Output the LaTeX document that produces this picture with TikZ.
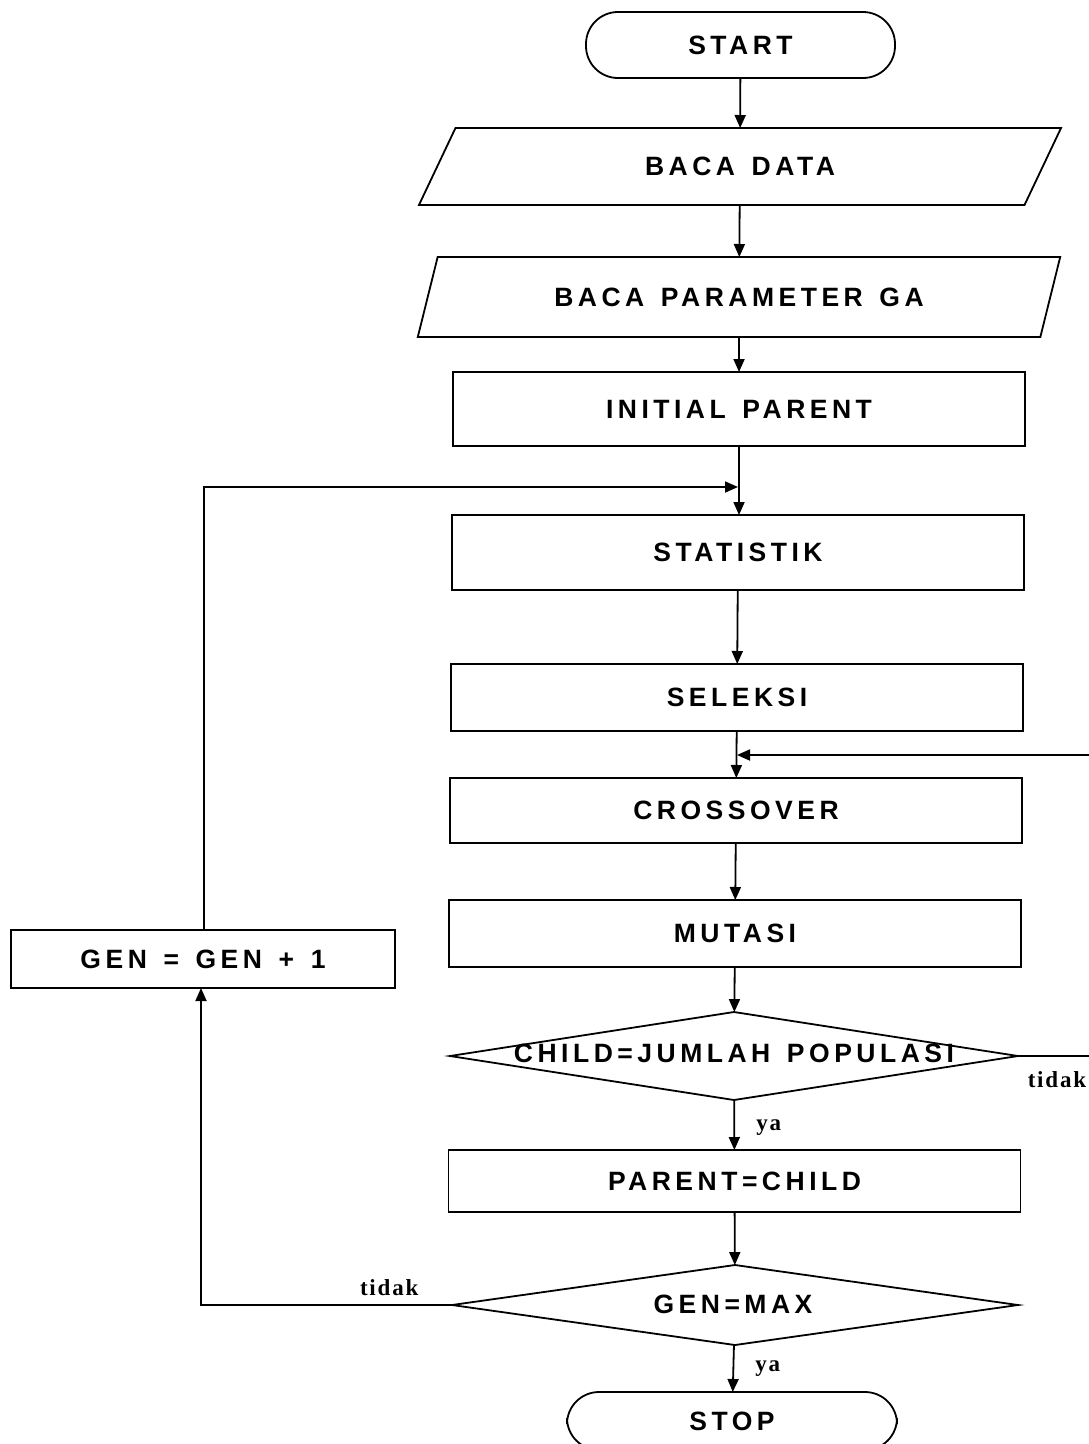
\documentclass[tikz,border=0pt]{standalone}
\usepackage{fontspec}
\usetikzlibrary{arrows.meta,shapes.geometric}
\newfontfamily\boxfont[LetterSpace=17,WordSpace=1.4]{Liberation Sans Bold}
\newfontfamily\lblfont[LetterSpace=8]{Liberation Serif Bold}
\begin{document}
\begin{tikzpicture}[x=1pt,y=-1pt,
  line width=1.8pt,
  every node/.style={inner sep=0pt,outer sep=0pt},
  txt/.style={font=\boxfont\fontsize{26.5}{26.5}\selectfont},
  lbl/.style={font=\lblfont\fontsize{23}{23}\selectfont},
  procbox/.style={draw,rectangle,minimum width=572pt,txt},
  termbox/.style={draw,rectangle,rounded corners=32pt,txt},
  iobox/.style={draw,trapezium,trapezium left angle=57,trapezium right angle=123,
    trapezium stretches=true,minimum width=644pt,txt},
  decbox/.style={draw,diamond,minimum width=568pt},
  arr/.style={-{Triangle[length=13pt,width=11pt]}}
]
\useasboundingbox (0,0) rectangle (1089,1444);

\node[termbox,minimum width=309pt,minimum height=66pt] (start) at (740.5,45) {START};
\node[iobox,minimum height=77pt] (baca) at (740,166.5) {BACA DATA};
\node[iobox,minimum height=80pt] (param) at (739,297) {BACA PARAMETER GA};
\node[procbox,minimum height=74pt] (init) at (739,409) {INITIAL PARENT};
\node[procbox,minimum height=75pt] (stat) at (738,552.5) {STATISTIK};
\node[procbox,minimum height=67pt] (sel) at (737,697.5) {SELEKSI};
\node[procbox,minimum height=65pt] (cross) at (736,810.5) {CROSSOVER};
\node[procbox,minimum height=67pt] (mut) at (735,933.5) {MUTASI};
\node[decbox,minimum height=88pt] (child) at (734,1056) {};
\node[txt] (childt) at (734,1053) {CHILD=JUMLAH POPULASI};
\node[procbox,minimum height=62pt] (par) at (734.5,1181) {PARENT=CHILD};
\node[decbox,minimum width=566pt,minimum height=80pt] (gen) at (735,1305) {};
\node[txt] (gent) at (733,1304) {GEN=MAX};
\node[termbox,minimum width=330pt,minimum height=58pt] (stop) at (732,1421) {STOP};
\node[draw,rectangle,minimum width=384pt,minimum height=58pt,txt] (inc) at (203,959) {GEN = GEN + 1};

\coordinate (j1) at (738,487);
\coordinate (j2) at (737,755);
\coordinate (rgt) at (1095,1056);

\draw[arr] (start) -- (baca);
\draw[arr] (baca) -- (param);
\draw[arr] (param.south) -- (param.south |- init.north);
\draw[arr] (init.south) -- (init.south |- stat.north);
\draw[arr] (stat) -- (sel);
\draw[arr] (sel) -- (cross);
\draw[arr] (cross) -- (mut);
\draw[arr] (mut) -- (child);
\draw[arr] (child) -- node[lbl,right=22pt,pos=0.55]{ya} (par);
\draw[arr] (par) -- (gen);
\draw[arr] (gen) -- node[lbl,right=22pt,pos=0.5]{ya} (stop);

\draw[arr] (inc.north -| 204,0) -- (204,487) -- (j1);
\draw[arr] (gen.west) -- node[lbl,pos=0.25,above=9pt]{tidak} (201,1305) -- (inc.south -| 201,0);
\draw[arr] (child.east) -- (rgt) -- (1095,755) -- (j2);
\node[lbl] (tidak2) at (1057,1080) {tidak};
\end{tikzpicture}
\end{document}
